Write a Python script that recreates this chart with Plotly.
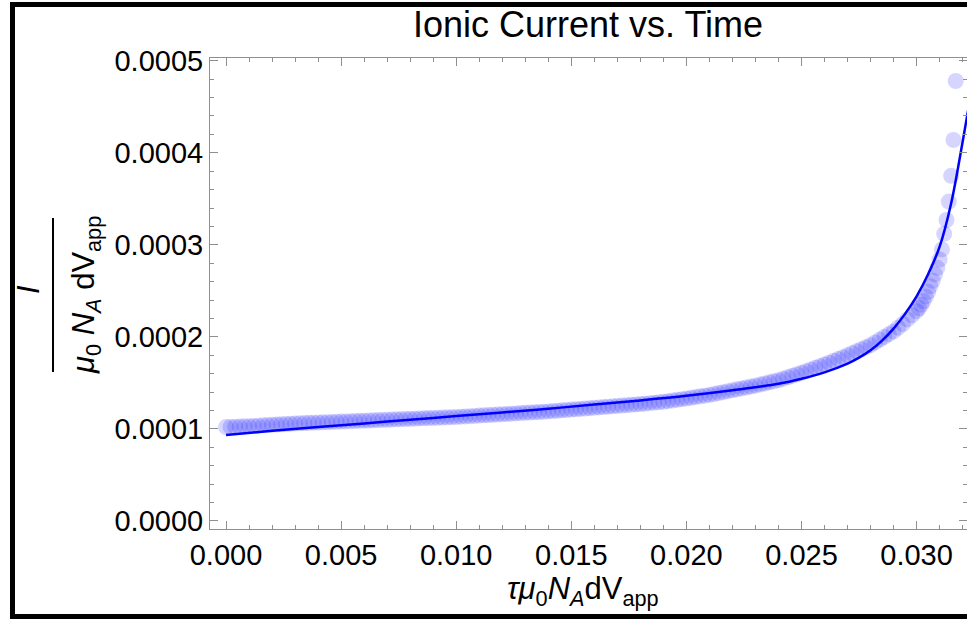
import plotly.graph_objects as go

# Measured ionic current (scaled), sampled in scaled time
t_data = [
    0.0, 0.2, 0.4, 0.6, 0.8, 1.0, 1.2, 1.4, 1.6, 1.8,
    2.0, 2.2, 2.4, 2.6, 2.8, 3.0, 3.2, 3.4, 3.6, 3.8,
    4.0, 4.2, 4.4, 4.6, 4.8, 5.0, 5.2, 5.4, 5.6, 5.8,
    6.0, 6.2, 6.4, 6.6, 6.8, 7.0, 7.2, 7.4, 7.6, 7.8,
    8.0, 8.2, 8.4, 8.6, 8.8, 9.0, 9.2, 9.4, 9.6, 9.8,
    10.0, 10.2, 10.4, 10.6, 10.8, 11.0, 11.2, 11.4, 11.6, 11.8,
    12.0, 12.2, 12.4, 12.6, 12.8, 13.0, 13.2, 13.4, 13.6, 13.8,
    14.0, 14.2, 14.4, 14.6, 14.8, 15.0, 15.2, 15.4, 15.6, 15.8,
    16.0, 16.2, 16.4, 16.6, 16.8, 17.0, 17.2, 17.4, 17.6, 17.8,
    18.0, 18.2, 18.4, 18.6, 18.8, 19.0, 19.2, 19.4, 19.6, 19.8,
    20.0, 20.2, 20.4, 20.6, 20.8, 21.0, 21.2, 21.4, 21.6, 21.8,
    22.0, 22.2, 22.4, 22.6, 22.8, 23.0, 23.2, 23.4, 23.6, 23.8,
    24.0, 24.2, 24.4, 24.6, 24.8, 25.0, 25.2, 25.4, 25.6, 25.8,
    26.0, 26.2, 26.4, 26.6, 26.8, 27.0, 27.2, 27.4, 27.6, 27.8,
    28.0, 28.2, 28.4, 28.6, 28.8, 29.0, 29.2, 29.4, 29.6, 29.8,
    30.0, 30.1, 30.2, 30.3, 30.4, 30.5, 30.6, 30.7, 30.8, 30.9,
    31.0, 31.1, 31.2, 31.3, 31.4, 31.5, 31.6, 31.7,
]
i_data = [
    1.020, 1.022, 1.024, 1.026, 1.028, 1.030, 1.033, 1.036, 1.039, 1.042,
    1.045, 1.048, 1.051, 1.054, 1.057, 1.060, 1.062, 1.064, 1.066, 1.068,
    1.070, 1.072, 1.074, 1.076, 1.078, 1.080, 1.082, 1.084, 1.086, 1.088,
    1.090, 1.092, 1.094, 1.096, 1.098, 1.100, 1.102, 1.104, 1.106, 1.108,
    1.110, 1.112, 1.114, 1.116, 1.118, 1.120, 1.122, 1.124, 1.126, 1.128,
    1.130, 1.133, 1.136, 1.139, 1.142, 1.145, 1.148, 1.151, 1.154, 1.157,
    1.160, 1.163, 1.166, 1.169, 1.172, 1.175, 1.178, 1.181, 1.184, 1.187,
    1.190, 1.194, 1.198, 1.202, 1.206, 1.210, 1.214, 1.218, 1.222, 1.226,
    1.230, 1.234, 1.238, 1.242, 1.246, 1.250, 1.254, 1.258, 1.262, 1.266,
    1.270, 1.275, 1.280, 1.285, 1.290, 1.295, 1.302, 1.309, 1.316, 1.323,
    1.330, 1.338, 1.346, 1.354, 1.362, 1.370, 1.380, 1.390, 1.400, 1.410,
    1.420, 1.430, 1.440, 1.450, 1.460, 1.470, 1.482, 1.494, 1.506, 1.518,
    1.530, 1.546, 1.562, 1.578, 1.594, 1.610, 1.628, 1.646, 1.664, 1.682,
    1.700, 1.720, 1.740, 1.760, 1.780, 1.800, 1.822, 1.844, 1.866, 1.888,
    1.910, 1.940, 1.970, 2.000, 2.030, 2.060, 2.100, 2.140, 2.190, 2.235,
    2.280, 2.310, 2.350, 2.390, 2.440, 2.490, 2.550, 2.610, 2.680, 2.750,
    2.840, 2.950, 3.120, 3.270, 3.470, 3.750, 4.140, 4.780,
]

# Fitted model curve
t_fit = [0.0, 2.0, 4.0, 6.0, 8.0, 10.0, 12.0, 14.0, 16.0, 18.0, 20.0, 22.0,
         24.0, 25.0, 26.0, 27.0, 27.5, 28.0, 28.5, 29.0, 29.5, 30.0, 30.5,
         31.0, 31.5, 32.0, 32.3]
i_fit = [0.935, 0.980, 1.020, 1.060, 1.100, 1.140, 1.180, 1.220, 1.265, 1.310,
         1.360, 1.420, 1.490, 1.545, 1.615, 1.710, 1.775, 1.855, 1.960, 2.090,
         2.250, 2.440, 2.680, 2.980, 3.450, 4.120, 4.550]

T_SCALE = 1e-3
I_SCALE = 1e-4

W, H = 967, 619
PL, PR, PT, PB = 210, 967, 58, 529   # plot-area pixel box


def px(x):
    return (x - PL) / (PR - PL)


def py(y):
    return (PB - y) / (PB - PT)


fig = go.Figure()
fig.add_trace(go.Scatter(
    x=[t * T_SCALE for t in t_data],
    y=[v * I_SCALE for v in i_data],
    mode="markers",
    marker=dict(size=16, color="rgba(20,20,255,0.18)", line=dict(width=0)),
    hoverinfo="skip",
))
fig.add_trace(go.Scatter(
    x=[t * T_SCALE for t in t_fit],
    y=[v * I_SCALE for v in i_fit],
    mode="lines",
    line=dict(color="rgb(0,0,255)", width=2.5, shape="spline"),
    hoverinfo="skip",
))

axis_color = "#8f8f8f"
tick_font = dict(family="Liberation Sans, Arial, sans-serif", size=29, color="black")

fig.update_xaxes(
    range=[-0.000696, 0.03219],
    tick0=0, dtick=0.005, tickformat=".3f",
    ticks="inside", ticklen=8, tickwidth=1, tickcolor=axis_color,
    minor=dict(dtick=0.001, tick0=0, ticks="inside", ticklen=4,
               tickwidth=1, tickcolor=axis_color, showgrid=False),
    showline=True, linecolor=axis_color, linewidth=1, mirror="ticks",
    showgrid=False, zeroline=False, tickfont=tick_font,
)
fig.update_yaxes(
    range=[-0.0000087, 0.000503],
    tick0=0, dtick=0.0001, tickformat=".4f",
    ticks="inside", ticklen=8, tickwidth=1, tickcolor=axis_color,
    minor=dict(dtick=0.00002, tick0=0, ticks="inside", ticklen=4,
               tickwidth=1, tickcolor=axis_color, showgrid=False),
    showline=True, linecolor=axis_color, linewidth=1, mirror="ticks",
    showgrid=False, zeroline=False, tickfont=tick_font,
)

label_font = dict(family="Liberation Sans, Arial, sans-serif", size=31, color="black")

annotations = [
    # x-axis label
    dict(text="<i>τμ</i><sub>0</sub><i>N</i><sub><i>A</i></sub>dV<sub>app</sub>",
         x=px(583), y=py(591), xref="paper", yref="paper",
         xanchor="center", yanchor="middle", showarrow=False, font=label_font),
    # y-axis label: numerator
    dict(text="<i>I</i>", textangle=-90,
         x=px(28), y=py(290), xref="paper", yref="paper",
         xanchor="center", yanchor="middle", showarrow=False, font=label_font),
    # y-axis label: denominator
    dict(text="<i>μ</i><sub>0</sub> <i>N</i><sub><i>A</i></sub> dV<sub>app</sub>",
         textangle=-90,
         x=px(86), y=py(295), xref="paper", yref="paper",
         xanchor="center", yanchor="middle", showarrow=False, font=label_font),
]

shapes = [
    # fraction bar of the y-axis label
    dict(type="line", xref="paper", yref="paper",
         x0=px(53), x1=px(53), y0=py(218), y1=py(372),
         line=dict(color="black", width=2)),
    # black frame around the figure
    dict(type="rect", xref="paper", yref="paper",
         x0=px(10), x1=px(15), y0=py(619), y1=py(2),
         fillcolor="black", line=dict(width=0)),
    dict(type="rect", xref="paper", yref="paper",
         x0=px(10), x1=px(967), y0=py(7), y1=py(2),
         fillcolor="black", line=dict(width=0)),
    dict(type="rect", xref="paper", yref="paper",
         x0=px(10), x1=px(967), y0=py(619), y1=py(614),
         fillcolor="black", line=dict(width=0)),
]

fig.update_layout(
    width=W, height=H,
    margin=dict(l=PL, r=W - PR, t=PT, b=H - PB, pad=0),
    paper_bgcolor="white", plot_bgcolor="white",
    showlegend=False,
    title=dict(text="Ionic Current vs. Time",
               font=dict(family="Liberation Sans, Arial, sans-serif", size=36, color="black"),
               x=px(588), xref="paper", xanchor="center",
               y=1 - 24 / H, yref="container", yanchor="middle"),
    annotations=annotations,
    shapes=shapes,
)

fig.write_html("out.html")
